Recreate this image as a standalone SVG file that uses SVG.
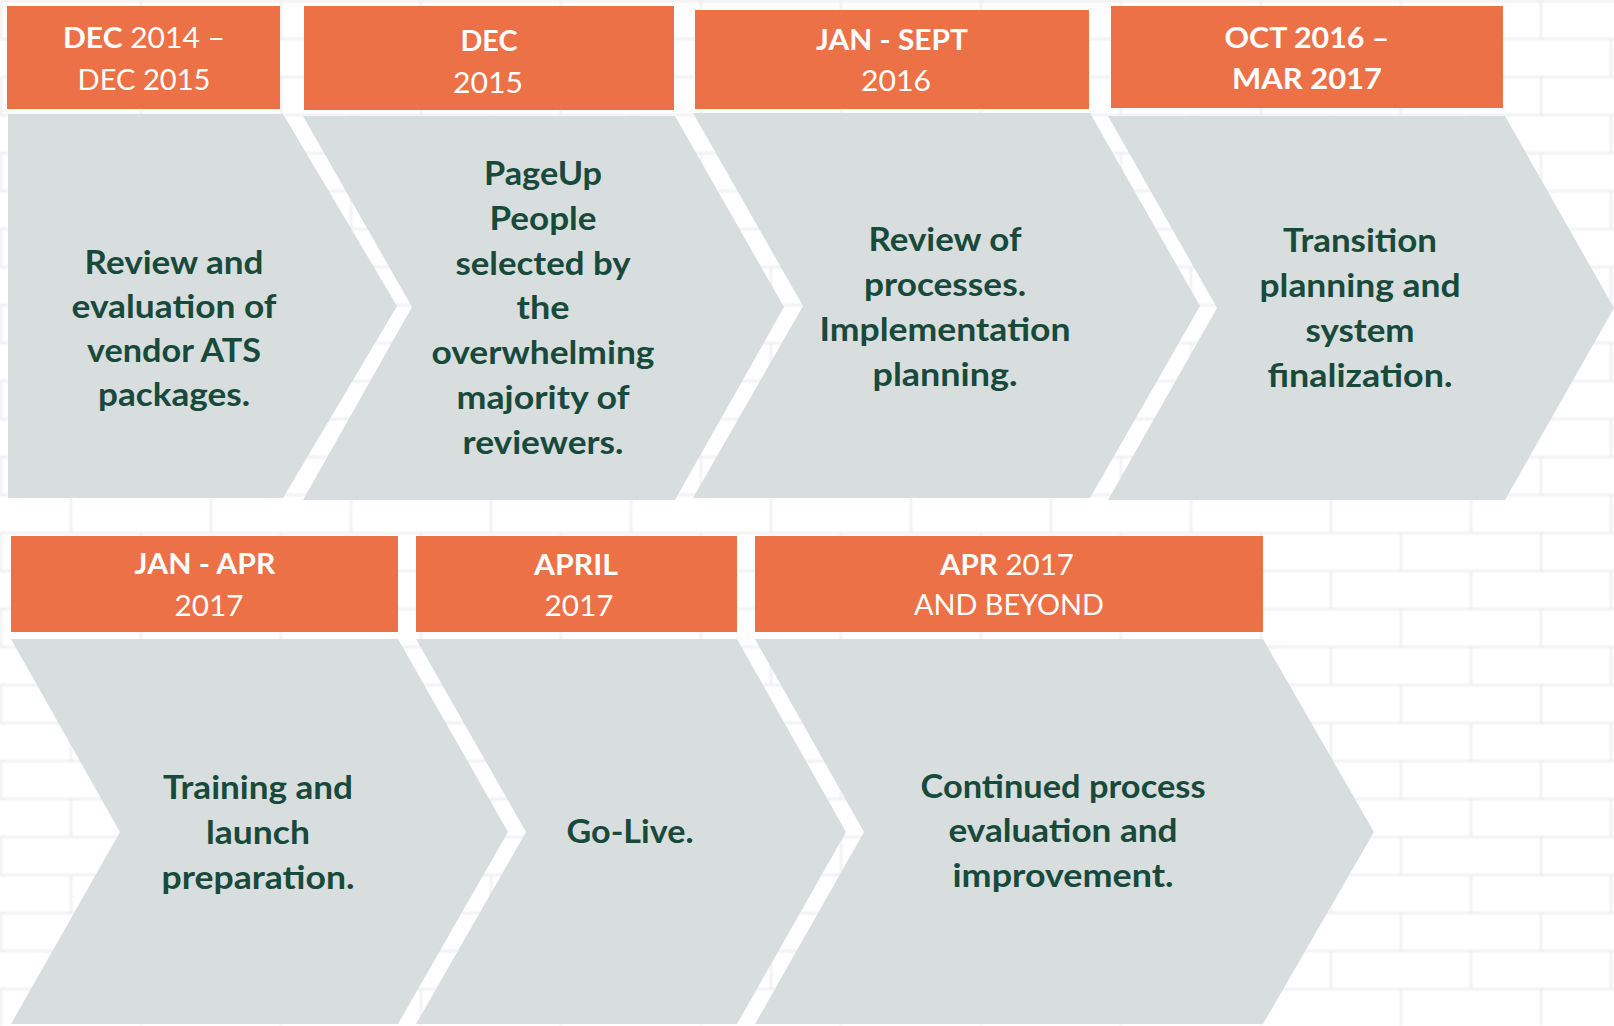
<svg xmlns="http://www.w3.org/2000/svg" width="1614" height="1026" viewBox="0 0 1614 1026">
  <defs>
    <!-- faint white brick wall behind the timeline -->
    <pattern id="bricks" x="0" y="0" width="140" height="76" patternUnits="userSpaceOnUse">
      <rect width="140" height="76" fill="#ffffff"/>
      <path d="M0 1H140 M0 39H140 M1 1V39 M71 39V76" fill="none" stroke="#ebebeb" stroke-width="2"/>
    </pattern>
    <filter id="soft" x="0" y="0" width="1" height="1">
      <feGaussianBlur stdDeviation="0.8"/>
    </filter>
    <style>
      .date { fill: #ec7147; }
      .step { fill: #d8dddd; }
      .hd { font-family: "Lato", "Open Sans", "Liberation Sans", sans-serif; font-size: 29px; fill: #ffffff; text-anchor: middle; }
      .b { font-weight: 700; }
      .r { font-weight: 400; }
      .tx { font-family: "Lato", "Open Sans", "Liberation Sans", sans-serif; font-size: 33px; font-weight: 700; fill: #184a3c; text-anchor: middle; }
    </style>
  </defs>

  <rect x="0" y="0" width="1614" height="1026" fill="#ffffff"/>
  <rect x="0" y="0" width="1614" height="1026" fill="url(#bricks)" filter="url(#soft)"/>

  <!-- top row -->
  <g id="phase-1">
    <rect class="date" x="7" y="6" width="273" height="103"/>
    <polygon class="step" points="8,114 283,114 397,306 283,498 8,498"/>
    <text class="hd" x="144" y="48" textLength="162" lengthAdjust="spacingAndGlyphs"><tspan class="b">DEC</tspan><tspan class="r"> 2014 –</tspan></text>
    <text class="hd r" x="144" y="90" textLength="133" lengthAdjust="spacingAndGlyphs">DEC 2015</text>
    <text class="tx" x="174" y="274" textLength="179" lengthAdjust="spacingAndGlyphs">Review and</text>
    <text class="tx" x="174" y="318" textLength="205" lengthAdjust="spacingAndGlyphs">evaluation of</text>
    <text class="tx" x="174" y="362" textLength="174" lengthAdjust="spacingAndGlyphs">vendor ATS</text>
    <text class="tx" x="174" y="406" textLength="152" lengthAdjust="spacingAndGlyphs">packages.</text>
  </g>

  <g id="phase-2">
    <rect class="date" x="304" y="6" width="370" height="104"/>
    <polygon class="step" points="303,116 675,116 784,307 675,500 303,500 412,307"/>
    <text class="hd b" x="489" y="51" textLength="57" lengthAdjust="spacingAndGlyphs">DEC</text>
    <text class="hd r" x="488" y="93" textLength="70" lengthAdjust="spacingAndGlyphs">2015</text>
    <text class="tx" x="543" y="185" textLength="118" lengthAdjust="spacingAndGlyphs">PageUp</text>
    <text class="tx" x="543" y="230" textLength="107" lengthAdjust="spacingAndGlyphs">People</text>
    <text class="tx" x="543" y="275" textLength="175" lengthAdjust="spacingAndGlyphs">selected by</text>
    <text class="tx" x="543" y="319" textLength="53" lengthAdjust="spacingAndGlyphs">the</text>
    <text class="tx" x="543" y="364" textLength="223" lengthAdjust="spacingAndGlyphs">overwhelming</text>
    <text class="tx" x="543" y="409" textLength="173" lengthAdjust="spacingAndGlyphs">majority of</text>
    <text class="tx" x="543" y="454" textLength="161" lengthAdjust="spacingAndGlyphs">reviewers.</text>
  </g>

  <g id="phase-3">
    <rect class="date" x="695" y="10" width="394" height="99"/>
    <polygon class="step" points="693,113 1090,113 1200,306 1090,498 693,498 803,306"/>
    <text class="hd b" x="892" y="50" textLength="152" lengthAdjust="spacingAndGlyphs">JAN - SEPT</text>
    <text class="hd r" x="896" y="91" textLength="70" lengthAdjust="spacingAndGlyphs">2016</text>
    <text class="tx" x="945" y="251" textLength="153" lengthAdjust="spacingAndGlyphs">Review of</text>
    <text class="tx" x="945" y="296" textLength="162" lengthAdjust="spacingAndGlyphs">processes.</text>
    <text class="tx" x="945" y="341" textLength="251" lengthAdjust="spacingAndGlyphs">Implementation</text>
    <text class="tx" x="945" y="386" textLength="145" lengthAdjust="spacingAndGlyphs">planning.</text>
  </g>

  <g id="phase-4">
    <rect class="date" x="1111" y="6" width="392" height="102"/>
    <polygon class="step" points="1108,116 1505,116 1614,308 1505,500 1108,500 1217,308"/>
    <text class="hd b" x="1307" y="48" textLength="165" lengthAdjust="spacingAndGlyphs">OCT 2016 –</text>
    <text class="hd b" x="1307" y="89" textLength="150" lengthAdjust="spacingAndGlyphs">MAR 2017</text>
    <text class="tx" x="1360" y="252" textLength="154" lengthAdjust="spacingAndGlyphs">Transition</text>
    <text class="tx" x="1360" y="297" textLength="201" lengthAdjust="spacingAndGlyphs">planning and</text>
    <text class="tx" x="1360" y="342" textLength="109" lengthAdjust="spacingAndGlyphs">system</text>
    <text class="tx" x="1360" y="387" textLength="185" lengthAdjust="spacingAndGlyphs">finalization.</text>
  </g>

  <!-- bottom row -->
  <g id="phase-5">
    <rect class="date" x="11" y="536" width="387" height="96"/>
    <polygon class="step" points="11,639 398,639 508,832 398,1024 11,1024 120,832"/>
    <text class="hd b" x="205" y="574" textLength="141" lengthAdjust="spacingAndGlyphs">JAN - APR</text>
    <text class="hd r" x="209" y="616" textLength="69" lengthAdjust="spacingAndGlyphs">2017</text>
    <text class="tx" x="258" y="799" textLength="190" lengthAdjust="spacingAndGlyphs">Training and</text>
    <text class="tx" x="258" y="844" textLength="104" lengthAdjust="spacingAndGlyphs">launch</text>
    <text class="tx" x="258" y="889" textLength="193" lengthAdjust="spacingAndGlyphs">preparation.</text>
  </g>

  <g id="phase-6">
    <rect class="date" x="416" y="536" width="321" height="96"/>
    <polygon class="step" points="416,639 737,639 846,832 737,1024 416,1024 526,832"/>
    <text class="hd b" x="576" y="575" textLength="84" lengthAdjust="spacingAndGlyphs">APRIL</text>
    <text class="hd r" x="579" y="616" textLength="69" lengthAdjust="spacingAndGlyphs">2017</text>
    <text class="tx" x="630" y="843" textLength="127" lengthAdjust="spacingAndGlyphs">Go-Live.</text>
  </g>

  <g id="phase-7">
    <rect class="date" x="755" y="536" width="508" height="96"/>
    <polygon class="step" points="755,639 1263,639 1374,832 1263,1024 755,1024 864,832"/>
    <text class="hd" x="1007" y="575" textLength="134" lengthAdjust="spacingAndGlyphs"><tspan class="b">APR</tspan><tspan class="r"> 2017</tspan></text>
    <text class="hd r" x="1009" y="615" textLength="190" lengthAdjust="spacingAndGlyphs">AND BEYOND</text>
    <text class="tx" x="1063" y="798" textLength="285" lengthAdjust="spacingAndGlyphs">Continued process</text>
    <text class="tx" x="1063" y="842" textLength="229" lengthAdjust="spacingAndGlyphs">evaluation and</text>
    <text class="tx" x="1063" y="887" textLength="221" lengthAdjust="spacingAndGlyphs">improvement.</text>
  </g>
</svg>
